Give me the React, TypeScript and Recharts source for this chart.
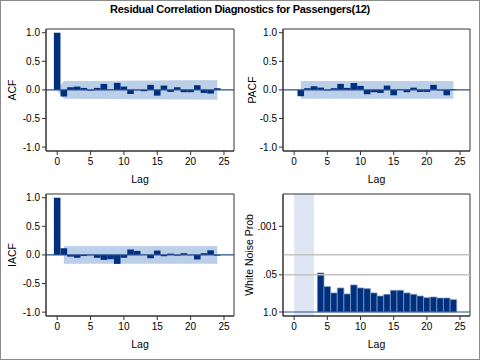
import React from "react"
import {
  Area,
  Bar,
  ComposedChart,
  ReferenceArea,
  ReferenceLine,
  XAxis,
  YAxis,
} from "recharts"

const lags = [0, 1, 2, 3, 4, 5, 6, 7, 8, 9, 10, 11, 12, 13, 14, 15, 16, 17, 18, 19, 20, 21, 22, 23, 24]

const acf = [1.0, -0.117, 0.047, 0.058, 0.035, -0.012, 0.035, 0.105, 0.006, 0.123, 0.058, -0.07, -0.005, -0.023, 0.088, -0.1, 0.076, -0.035, 0.047, -0.04, -0.04, 0.082, -0.053, -0.064, 0.03]
const acfBand = [0, 0.145, 0.147, 0.147, 0.148, 0.148, 0.148, 0.148, 0.15, 0.15, 0.153, 0.154, 0.155, 0.155, 0.155, 0.156, 0.158, 0.159, 0.159, 0.159, 0.16, 0.16, 0.161, 0.161, 0.162]

const pacf = [null, -0.11, 0.03, 0.064, 0.04, -0.01, 0.03, 0.105, 0.035, 0.12, 0.07, -0.076, -0.04, -0.053, 0.076, -0.094, 0.01, -0.04, 0.04, -0.035, -0.035, 0.088, -0.01, -0.094, 0.015]
const iacf = [1.0, 0.116, -0.03, -0.05, -0.02, -0.005, -0.05, -0.087, -0.075, -0.157, -0.05, 0.093, 0.07, 0.002, -0.058, 0.076, -0.023, 0.023, -0.012, 0.03, -0.005, -0.08, 0.03, 0.08, -0.012]
const stdBand = 0.145

// white noise test p-values, lags 4..24
const wnLags = [4, 5, 6, 7, 8, 9, 10, 11, 12, 13, 14, 15, 16, 17, 18, 19, 20, 21, 22, 23, 24]
const wnProb = [0.043, 0.129, 0.215, 0.144, 0.233, 0.113, 0.144, 0.152, 0.215, 0.275, 0.24, 0.174, 0.174, 0.215, 0.24, 0.275, 0.314, 0.298, 0.324, 0.324, 0.369]

const xTicks = [0, 5, 10, 15, 20, 25]
const corrTicks = [-1, -0.5, 0, 0.5, 1]
const probTicks = [1.0, 0.05, 0.001]
const probLabels = ["1.0", ".05", ".001"]

const FONT = "'Liberation Sans Narrow', 'Liberation Sans', Arial, sans-serif"
const FRAME = "#333333"
const BAR = "#00307d"
const BAND = "#bccfe9"
const X_DOMAIN: [number, number] = [-1.68, 26.5]
const CORR_DOMAIN: [number, number] = [-1.068, 1.065]
const WN_DOMAIN: [number, number] = [-0.14, 4.13]
const tickStyle = { fontSize: 10, fill: "#000", fontFamily: FONT }

const acfData = lags.map((lag, i) => ({
  lag,
  value: acf[i],
  band: [-acfBand[i], acfBand[i]],
}))
const pacfData = lags.map((lag, i) => ({
  lag,
  value: pacf[i],
  band: i === 0 ? null : [-stdBand, stdBand],
}))
const iacfData = lags.map((lag, i) => ({
  lag,
  value: iacf[i],
  band: i === 0 ? null : [-stdBand, stdBand],
}))
const wnData = wnLags.map((lag, i) => ({ lag, value: -Math.log10(wnProb[i]) }))

function frame(yDomain: [number, number]) {
  return (
    <ReferenceArea
      x1={X_DOMAIN[0]}
      x2={X_DOMAIN[1]}
      y1={yDomain[0]}
      y2={yDomain[1]}
      fill="none"
      stroke={FRAME}
      strokeWidth={1}
      ifOverflow="visible"
    />
  )
}

function CorrPanel({ data, label, left, top, yWidth, right }: any) {
  return (
    <div style={{ position: "absolute", left, top }}>
      <ComposedChart
        width={240}
        height={165}
        data={data}
        margin={{ top: 7, right, bottom: 0, left: 0 }}
      >
        <XAxis
          dataKey="lag"
          type="number"
          domain={X_DOMAIN}
          allowDataOverflow
          ticks={xTicks}
          height={36}
          tick={tickStyle}
          tickSize={4}
          tickMargin={3}
          stroke={FRAME}
          label={{ value: "Lag", position: "insideBottom", offset: 4, fontSize: 10.5, fill: "#000", fontFamily: FONT }}
        />
        <YAxis
          type="number"
          domain={CORR_DOMAIN}
          allowDataOverflow
          ticks={corrTicks}
          tickFormatter={(v: number) => v.toFixed(1)}
          width={yWidth}
          tick={tickStyle}
          tickSize={4}
          tickMargin={2}
          stroke={FRAME}
          label={{ value: label, angle: -90, position: "insideLeft", offset: 12, style: { textAnchor: "middle" }, fontSize: 10.5, fill: "#000", fontFamily: FONT }}
        />
        <Area dataKey="band" type="linear" fill={BAND} fillOpacity={1} stroke={BAND} isAnimationActive={false} />
        <ReferenceLine y={0} stroke="#2b4f8c" strokeWidth={1.2} />
        <Bar dataKey="value" fill={BAR} barSize={6.6} isAnimationActive={false} />
        {frame(CORR_DOMAIN)}
      </ComposedChart>
    </div>
  )
}

function WhiteNoisePanel({ left, top }: any) {
  return (
    <div style={{ position: "absolute", left, top }}>
      <ComposedChart
        width={240}
        height={165}
        data={wnData}
        margin={{ top: 7, right: 10, bottom: 0, left: 0 }}
      >
        <XAxis
          dataKey="lag"
          type="number"
          domain={X_DOMAIN}
          allowDataOverflow
          ticks={xTicks}
          height={36}
          tick={tickStyle}
          tickSize={4}
          tickMargin={3}
          stroke={FRAME}
          label={{ value: "Lag", position: "insideBottom", offset: 4, fontSize: 10.5, fill: "#000", fontFamily: FONT }}
        />
        <YAxis
          type="number"
          domain={WN_DOMAIN}
          allowDataOverflow
          ticks={probTicks.map((p) => -Math.log10(p))}
          tickFormatter={(v: number) => probLabels[probTicks.findIndex((p) => Math.abs(-Math.log10(p) - v) < 1e-6)]}
          width={43}
          tick={tickStyle}
          tickSize={4}
          tickMargin={2}
          stroke={FRAME}
          label={{ value: "White Noise Prob", angle: -90, position: "insideLeft", offset: 9, style: { textAnchor: "middle" }, fontSize: 10.5, fill: "#000", fontFamily: FONT }}
        />
        <ReferenceArea x1={0} x2={3} fill="#dde6f2" fillOpacity={1} stroke="none" />
        <ReferenceLine y={-Math.log10(0.05)} stroke="#c4c4c4" strokeWidth={1.5} />
        <ReferenceLine y={2} stroke="#c4c4c4" strokeWidth={1.5} />
        <ReferenceLine y={0} stroke="#2b4f8c" strokeWidth={1.2} />
        <Bar dataKey="value" fill={BAR} stroke="#7f9cc9" strokeWidth={0.7} barSize={6.6} isAnimationActive={false} />
        {frame(WN_DOMAIN)}
      </ComposedChart>
    </div>
  )
}

export default function App() {
  return (
    <div
      style={{
        position: "fixed",
        left: 0,
        top: 0,
        width: 480,
        height: 360,
        boxSizing: "border-box",
        border: "1px solid #8c8c8c",
        background: "#fff",
        fontFamily: FONT,
      }}
    >
      <div
        style={{
          position: "absolute",
          left: 0,
          top: 2,
          width: 478,
          textAlign: "center",
          fontSize: 11,
          fontWeight: "bold",
          fontFamily: "'Liberation Sans', Arial, sans-serif",
          letterSpacing: -0.3,
        }}
      >
        Residual Correlation Diagnostics for Passengers(12)
      </div>
      <CorrPanel data={acfData} label="ACF" left={-1} top={21} yWidth={46} right={6} />
      <CorrPanel data={pacfData} label="PACF" left={239} top={21} yWidth={43} right={10} />
      <CorrPanel data={iacfData} label="IACF" left={-1} top={186} yWidth={46} right={6} />
      <WhiteNoisePanel left={239} top={186} />
    </div>
  )
}
